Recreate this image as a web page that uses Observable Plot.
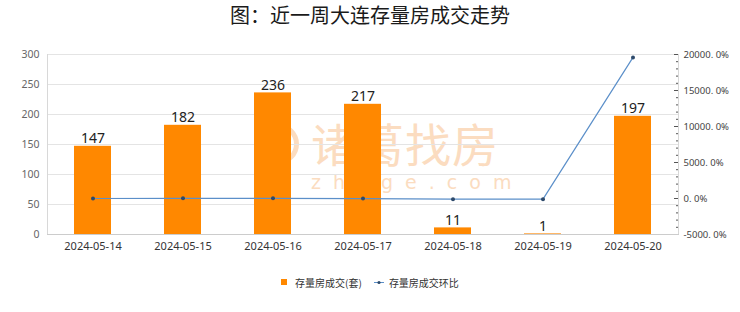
<!DOCTYPE html>
<html>
<head>
<meta charset="utf-8">
<script src="https://cdn.jsdelivr.net/npm/d3@7"></script>
<script src="https://cdn.jsdelivr.net/npm/@observablehq/plot@0.6"></script>
<style>
  body { margin: 0; background: #ffffff; font-family: "Noto Sans CJK SC", "Noto Sans", sans-serif; }
  #wrap { position: relative; width: 740px; height: 312px; }
  #title { position: relative; height: 32px; line-height: 30px; text-align: center; font-size: 20px; font-weight: normal; color: #1a1a1a; z-index: 2; }
  #chart { position: relative; z-index: 1; }
  #legend { position: absolute; top: 274px; left: 0; width: 740px; height: 16px; display: flex; justify-content: center; align-items: center; font-size: 10px; color: #333; z-index: 2; }
  #legend span.item { display: inline-flex; align-items: center; }
  .wm { position: absolute; pointer-events: none; color: #fbdcc0; z-index: 0; white-space: nowrap; }
</style>
</head>
<body>
<div id="wrap">
  <div id="title">图：近一周大连存量房成交走势</div>
  <div class="wm" style="left:311px; top:118px; font-size:46px; line-height:48px; letter-spacing:1px;">诸葛找房</div>
  <div class="wm" style="left:257px; top:123px; width:42px; height:42px; border:5px solid #fbdcc0; border-radius:50%; box-sizing:border-box;"></div>
  <div class="wm" style="left:311px; top:171px; font-size:19px; line-height:22px; letter-spacing:12px; font-family:'DejaVu Sans', sans-serif;">zhuge.com</div>
  <div id="chart"></div>
  <div id="legend">
    <span class="item"><svg width="7" height="7" style="margin-right:7px"><rect x="0" y="0" width="6" height="6" fill="#ff8800"></rect></svg>存量房成交(套)</span>
    <span class="item" style="margin-left:12px"><svg width="10" height="7" style="margin-right:5px"><line x1="0" y1="3.5" x2="10" y2="3.5" stroke="#5b8fc9" stroke-width="1"></line><circle cx="5" cy="3.5" r="1.6" fill="#2e4a6b"></circle></svg>存量房成交环比</span>
  </div>
</div>
<script>
const dates = ["2024-05-14","2024-05-15","2024-05-16","2024-05-17","2024-05-18","2024-05-19","2024-05-20"];
const volumes = [147, 182, 236, 217, 11, 1, 197];
const changes = [0, 23.8, 29.7, -8.1, -94.9, -90.9, 19600];
const leftTicks = [0, 50, 100, 150, 200, 250, 300];
const rightTicks = [-5000, 0, 5000, 10000, 15000, 20000];

const rMin = -5000, rMax = 20000, lMax = 300;
const toLeft = p => (p - rMin) / (rMax - rMin) * lMax;

const rows = dates.map((d, i) => ({date: d, vol: volumes[i], chg: changes[i], chgY: toLeft(changes[i])}));
const minorTicks = d3.range(rMin, rMax + 1, 1000).map(toLeft);

const chart = Plot.plot({
  width: 740,
  height: 233,
  marginTop: 22,
  marginBottom: 31,
  marginLeft: 47,
  marginRight: 62,
  style: {fontFamily: "'Noto Sans', 'Noto Sans CJK SC', sans-serif", background: "transparent"},
  x: {domain: dates, paddingInner: 0.59, paddingOuter: 0.295, label: null},
  y: {domain: [0, lMax], label: null},
  marks: [
    Plot.gridY(leftTicks, {stroke: "#e4e4e4", strokeOpacity: 1}),
    Plot.barY(rows, {x: "date", y: "vol", fill: "#ff8800"}),
    Plot.text(rows, {x: "date", y: "vol", text: d => String(d.vol), dy: -3, lineAnchor: "bottom", fontSize: 14, fill: "#222"}),
    Plot.line(rows, {x: "date", y: "chgY", stroke: "#5b8fc9", strokeWidth: 1.2}),
    Plot.dot(rows, {x: "date", y: "chgY", r: 2, fill: "#2e4a6b"}),
    Plot.axisY(leftTicks, {anchor: "left", tickSize: 0, tickPadding: 8, fontSize: 10.5, fill: "#666", label: null}),
    Plot.axisY(minorTicks, {anchor: "right", tickSize: -3, text: null, stroke: "#555", label: null}),
    Plot.axisY(rightTicks.map(toLeft), {anchor: "right", tickSize: -5, stroke: "#555", tickPadding: 10, fontSize: 9.5, fill: "#444",
      tickFormat: v => {
        const p = Math.round(v / lMax * (rMax - rMin) + rMin);
        return p + ". 0%";
      }, label: null}),
    Plot.axisX({tickSize: 0, tickPadding: 8, fontSize: 11, fill: "#333", label: null}),
    Plot.frame({anchor: "left", stroke: "#d8d8d8"}),
    Plot.frame({anchor: "right", stroke: "#d8d8d8"}),
    Plot.frame({anchor: "bottom", stroke: "#cccccc"})
  ]
});
document.getElementById("chart").appendChild(chart);
</script>
</body>
</html>
